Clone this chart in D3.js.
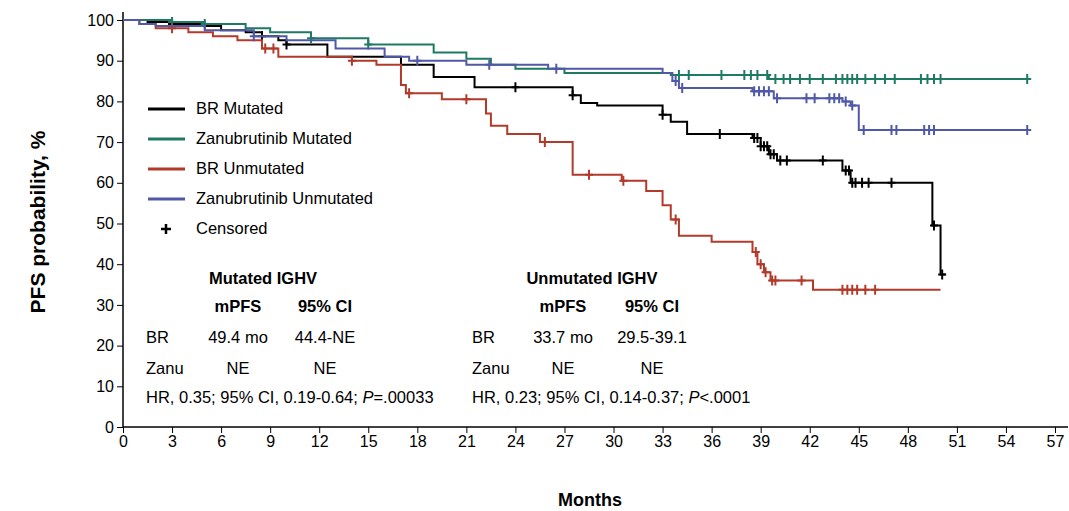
<!DOCTYPE html>
<html><head><meta charset="utf-8">
<script src="https://cdn.jsdelivr.net/npm/d3@7"></script>
<style>body{margin:0;background:#fff;font-family:Arial,"Liberation Sans",sans-serif}</style>
</head><body><svg id="c" width="1069" height="511"></svg>
<script>
const xTicks=[0,3,6,9,12,15,18,21,24,27,30,33,36,39,42,45,48,51,54,57];
const yTicks=[0,10,20,30,40,50,60,70,80,90,100];
const seriesNames=["BR Mutated","Zanubrutinib Mutated","BR Unmutated","Zanubrutinib Unmutated"];
const seriesColors=["#000000","#1e7a62","#b23a2a","#5058a8"];
const brMut=[[0,100],[1.5,99.5],[3,99],[5,98.5],[6,97.5],[7.5,97],[8.5,96],[9.5,95],[10,94],[12.5,91],[17,89],[19,86],[21.5,83.5],[27.5,81.5],[28,79.6],[29,79],[33,76.7],[33.5,75],[34.5,72],[38.5,71],[39,69],[39.5,67],[40,65.5],[44,63],[44.5,60],[49.5,49.5],[50,37.5],[50.3,37.5]];
const zanuMut=[[0,100],[3,99.5],[5,99],[7.5,98],[9,97],[11.5,95.5],[15,94],[19,92],[21,90.5],[22.5,89],[24,88],[27,87],[33.5,86.5],[39.5,85.5],[55.5,85.5]];
const brUnm=[[0,100],[1,99],[2,98],[4,97],[5.5,96],[7,95],[8.5,93],[9.5,91],[14,90],[15.5,89],[17,84],[17.3,82],[19.5,80.5],[22.2,77],[22.5,74],[23.5,72],[25.5,70],[27.5,62],[30.5,60.5],[32,58],[33,54.5],[33.5,51],[34,47],[36,45.5],[38.5,43],[38.8,40],[39.2,38],[39.6,36],[42.2,33.7],[50,33.7]];
const zanuUnm=[[0,100],[1,99],[2,98.5],[5,97.5],[8,96],[10,95],[13,93],[16,91],[17.5,90],[21,89],[26,88],[33,87],[33.6,85],[34,83.3],[38.5,82.5],[39.8,80.8],[44,80],[44.5,79],[45,73],[55.5,73]];
const brMutCens=[3,8.5,10,24,27.5,33,36.5,38.6,38.8,39,39.2,39.4,39.6,39.8,40.2,40.6,42.8,44.2,44.4,44.6,44.8,45.2,45.6,47,49.6,50.1];
const zanuMutCens=[3,5,11.5,15,34,34.6,36.6,38,38.4,38.8,39.4,39.9,40.4,40.8,41.4,42,42.8,43.6,44,44.3,44.6,44.9,45.4,46,46.6,47.2,48.8,49.2,49.6,50,55.3];
const brUnmCens=[3,8.7,9.2,14,17.5,21,25.8,28.5,30.6,33.8,38.7,39,39.3,39.7,39.9,41.5,44,44.3,44.6,44.9,45.4,46];
const zanuUnmCens=[8,18,22.4,26.5,33.8,34.2,38.6,38.9,39.2,39.5,40,41.8,42.3,43.2,43.5,43.8,44.2,44.6,45.3,47,47.3,49,49.3,49.6,55.3];
const allData=[brMut,zanuMut,brUnm,zanuUnm];
const allCens=[brMutCens,zanuMutCens,brUnmCens,zanuUnmCens];

const svg=d3.select("#c");
const x=d3.scaleLinear().domain([0,57]).range([123,1055]);
const y=d3.scaleLinear().domain([0,100]).range([427,20]);
svg.append("g").attr("transform","translate(0,427)").call(d3.axisBottom(x).tickValues(xTicks).tickSize(6).tickSizeOuter(0))
 .call(g=>{g.select(".domain").attr("stroke-width",1.5);g.selectAll("text").attr("font-size",16).attr("fill","#000").attr("font-family","Arial");})
 .call(g=>g.select(".domain").attr("d","M123,0H1068"));
svg.append("g").attr("transform","translate(123,0)").call(d3.axisLeft(y).tickValues(yTicks).tickSize(6).tickSizeOuter(0))
 .call(g=>{g.select(".domain").attr("stroke-width",1.5);g.selectAll("text").attr("font-size",16).attr("fill","#000").attr("font-family","Arial");})
 .call(g=>g.select(".domain").attr("d","M0,12V427"));
const line=d3.line().x(d=>x(d[0])).y(d=>y(d[1])).curve(d3.curveStepAfter);
function valAt(data,t){let v=data[0][1];for(const p of data){if(p[0]<=t)v=p[1];}return v;}
allData.forEach((data,i)=>{
 svg.append("path").attr("d",line(data)).attr("fill","none").attr("stroke",seriesColors[i]).attr("stroke-width",2);
 svg.append("g").selectAll("path").data(allCens[i]).join("path")
  .attr("d",t=>{const cx=x(t),cy=y(valAt(data,t));return `M${cx-4},${cy}H${cx+4}M${cx},${cy-5}V${cy+5}`;})
  .attr("stroke",seriesColors[i]).attr("stroke-width",2);
});
const FS=16.5;
const lg=svg.append("g");
seriesNames.forEach((n,i)=>{
 const ly=109+i*30;
 lg.append("line").attr("x1",148).attr("x2",185).attr("y1",ly).attr("y2",ly).attr("stroke",seriesColors[i]).attr("stroke-width",3);
 lg.append("text").attr("x",196).attr("y",ly+5).attr("font-size",FS).text(n);
});
lg.append("path").attr("d","M161,229H171M166,224V234").attr("stroke","#000").attr("stroke-width",2.5);
lg.append("text").attr("x",196).attr("y",234).attr("font-size",FS).text("Censored");
function t(xp,yp,s,bold,anchor){return svg.append("text").attr("x",xp).attr("y",yp).attr("font-size",FS).attr("font-weight",bold?"bold":null).attr("text-anchor",anchor||"middle").text(s);}
t(263,284,"Mutated IGHV",true);t(238,312,"mPFS",true);t(325,312,"95% CI",true);
t(146,343,"BR",false,"start");t(238,343,"49.4 mo");t(325,343,"44.4-NE");
t(146,374,"Zanu",false,"start");t(238,374,"NE");t(325,374,"NE");
const hr1=t(146,403,"",false,"start");hr1.append("tspan").text("HR, 0.35; 95% CI, 0.19-0.64; ");hr1.append("tspan").attr("font-style","italic").text("P");hr1.append("tspan").text("=.00033");
t(592,284,"Unmutated IGHV",true);t(563,312,"mPFS",true);t(652,312,"95% CI",true);
t(472,343,"BR",false,"start");t(563,343,"33.7 mo");t(652,343,"29.5-39.1");
t(472,374,"Zanu",false,"start");t(563,374,"NE");t(652,374,"NE");
const hr2=t(472,403,"",false,"start");hr2.append("tspan").text("HR, 0.23; 95% CI, 0.14-0.37; ");hr2.append("tspan").attr("font-style","italic").text("P");hr2.append("tspan").text("<.0001");
svg.append("text").attr("transform","translate(45,222) rotate(-90)").attr("text-anchor","middle").attr("font-size",21).attr("font-weight","bold").text("PFS probability, %");
svg.append("text").attr("x",590).attr("y",506).attr("text-anchor","middle").attr("font-size",18).attr("font-weight","bold").text("Months");
</script></body></html>
